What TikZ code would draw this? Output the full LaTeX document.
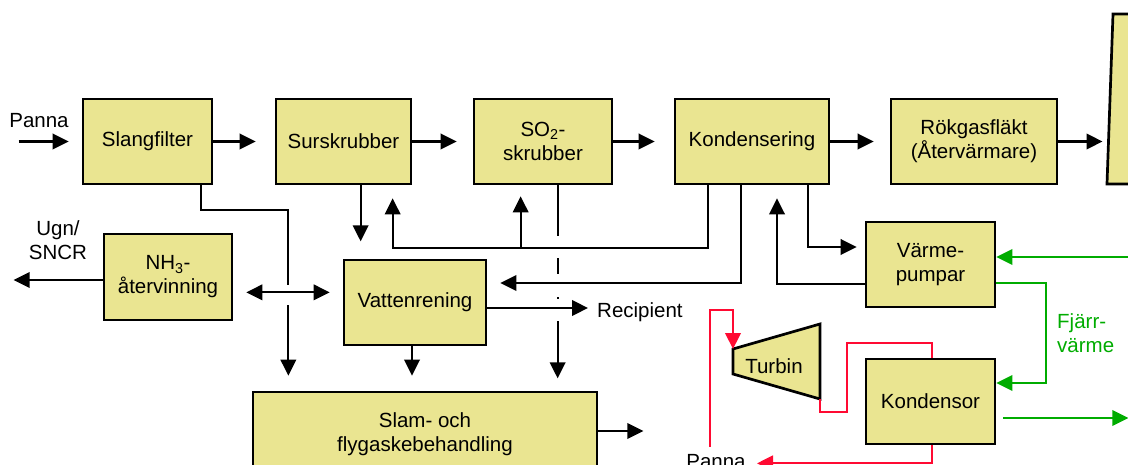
\documentclass[tikz,border=0pt]{standalone}
\usepackage{fontspec}
\setmainfont{Liberation Sans}
\usetikzlibrary{arrows.meta,calc}
\definecolor{yel}{RGB}{234,229,145}
\definecolor{gr}{RGB}{0,172,0}
\definecolor{rd}{RGB}{255,10,50}
\tikzset{
  box/.style={draw=black, line width=2.7pt, fill=yel, inner sep=0pt, align=center,
    minimum height=85pt},
  lbl/.style={inner sep=0pt, align=center},
  tip/.tip={Triangle[length=16pt,width=15.5pt]},
  ln/.style={line width=2.2pt, draw=black},
  arr/.style={ln, -tip},
  darr/.style={ln, tip-tip},
  garr/.style={line width=2.2pt, draw=gr, -tip},
  rln/.style={line width=2.2pt, draw=rd},
  rarr/.style={rln, -tip},
}
\begin{document}
\begin{tikzpicture}[x=1pt,y=-1pt, every node/.append style={font=\fontsize{20.5}{24}\selectfont}]
\useasboundingbox (0,0) rectangle (1128,465);
% boxes
\node[box, minimum width=129pt] (sf) at (147.5,141.5) {Slangfilter};
\node[box, minimum width=135pt] (ss) at (343.5,141.5) {Surskrubber};
\node[box, minimum width=138pt] (so) at (543,141.5) {SO\textsubscript{2}-\\skrubber};
\node[box, minimum width=154pt] (ko) at (752,141.5) {Kondensering};
\node[box, minimum width=166pt] (rk) at (974,141.5) {Rökgasfläkt\\(Återvärmare)};
\node[box, minimum width=128pt, minimum height=86pt] (nh) at (168,277) {NH\textsubscript{3}-\\återvinning};
\node[box, minimum width=142pt] (vr) at (415,302.5) {Vattenrening};
\node[box, minimum width=129pt] (vp) at (930.5,264.5) {Värme-\\pumpar};
\node[box, minimum width=129pt] (kd) at (930.5,401.5) {Kondensor};
\node[box, minimum width=344pt] (slam) at (425,434.5) {Slam- och\\flygaskebehandling};
% turbine
\draw[line width=2.7pt, fill=yel] (733,349) coordinate (t1) -- (820,324) coordinate (t2)
  -- (820,399) coordinate (t3) -- (733,374) coordinate (t4) -- cycle;
\node[lbl] (tu) at (774,366) {Turbin};
% chimney
\draw[line width=2.7pt, fill=yel] (1107,184) -- (1113,14) -- (1145,14) -- (1145,184) -- cycle;
\coordinate (chim) at (1108.5,141.5);
% labels
\node[lbl, anchor=base] (pin) at (39,128) {Panna};
\node[lbl] (ugn) at (58,240.5) {Ugn/\\SNCR};
\node[lbl, anchor=base west] (rec) at (597,318) {Recipient};
\node[lbl, anchor=west, align=left, text=gr] (fj) at (1057,333.5) {Fjärr-\\värme};
\node[lbl, anchor=base] (pb) at (716,468) {Panna};
% main gas line
\draw[arr] ([xshift=-63pt]sf.west) -- ++(50,0);
\draw[arr, shorten >=19pt] (sf) -- (ss);
\draw[arr, shorten >=16pt] (ss) -- (so);
\draw[arr, shorten >=19pt] (so) -- (ko);
\draw[arr, shorten >=16pt] (ko) -- (rk);
\draw[arr, shorten >=6pt] (rk.east) -- (chim);
% Slangfilter ash line
\draw[ln] ([xshift=-12pt]sf.south east) |- ++(87,25) coordinate (c1) -- ++(0,75);
\coordinate (cross) at ($(c1)+(0,82)$);
\draw[arr, shorten >=15pt] ($(c1)+(0,95)$) -- (c1 |- slam.north);
\draw[darr, shorten <=13pt, shorten >=13pt] (nh.east |- cross) -- (vr.west |- cross);
\draw[arr] ([yshift=-3pt]nh.west) -- ++(-89,0);
% Surskrubber down
\draw[arr] ([xshift=86pt]ss.south west) -- ++(0,56);
% Kondensering return loop
\draw[arr] ([xshift=34pt]ko.south west) |- ++(-315,63) -- ++(0,-50);
\draw[arr] ([xshift=48pt,yshift=-63pt]so.south west) -- ++(0,-52);
% SO2 dash-dot line
\draw[arr] ([xshift=85pt]so.south west) -- ++(0,51) ++(0,22) -- ++(0,16) ++(0,23) -- ++(0,2)
  ++(0,22) -- ++(0,57);
% Kondensering to Vattenrening
\draw[arr] ([xshift=67pt]ko.south west) |- ([xshift=13pt,yshift=19.5pt]vr.east);
\draw[arr] ([yshift=-5.5pt]vr.east) -- ([xshift=-9pt,yshift=10pt]rec.base west);
% Kondensering <-> Varmepumpar
\draw[arr] ([xshift=134pt]ko.south west) |- ([xshift=-8pt,yshift=17.5pt]vp.west);
\draw[arr] ([yshift=-19.5pt]vp.west) -| ([xshift=25pt,yshift=-13pt]ko.south);
% to slam
\draw[arr, shorten >=15pt] ([xshift=-3pt]vr.south) -- ([xshift=-3pt]vr.south |- slam.north);
\draw[arr] ([yshift=3.5pt]slam.east) -- ++(45,0);
% green district heating
\coordinate (gin) at (1132,257);
\draw[garr] (gin) -- ([yshift=7.5pt]vp.east);
\draw[garr] ([yshift=-18.5pt]vp.east) -| ++(50,100) -- ([yshift=18.5pt]kd.east);
\draw[garr] ([xshift=7pt,yshift=-16.5pt]kd.east) -- ++(125,0);
% red steam cycle
\draw[rarr] ([xshift=-6pt,yshift=7pt]pb.north) |- ++(23,-137) -- (t1);
\draw[rln] (t3) -- ++(0,13) -- ++(27,0) -- ++(0,-69) -| ([xshift=1.5pt]kd.north);
\draw[rarr] ([xshift=1.5pt]kd.south) |- ++(-175,18);
\end{tikzpicture}
\end{document}
